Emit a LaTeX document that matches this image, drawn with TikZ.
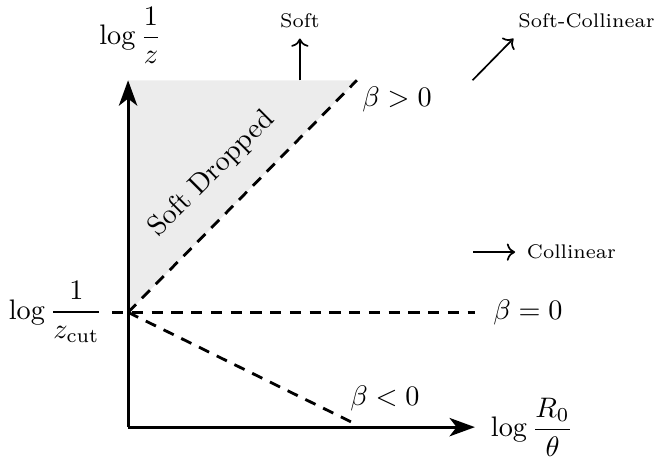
\documentclass[tikz,border=0pt]{standalone}
\usepackage{amsmath}
\usetikzlibrary{arrows.meta,positioning}

\tikzset{
    axis/.style={line width=1.1pt, -{Stealth[length=9pt,width=6.5pt,inset=2.5pt]}},
    cutline/.style={line width=1pt, dash pattern=on 4pt off 3pt},
    region/.style={semithick, ->},
    smalllabel/.style={font=\scriptsize, inner sep=1pt},
}

\begin{document}
\begin{tikzpicture}
    \useasboundingbox (-1.595,-0.374) rectangle (6.60,5.32);
    \coordinate (O) at (0,0);
    \coordinate (ytop) at (0,4.32);
    \coordinate (xend) at (4.32,0);
    \coordinate (cut) at (0,1.43);
    \coordinate (upend) at (2.85,4.32);
    \coordinate (flatstart) at (-0.2,1.43);
    \coordinate (flatend) at (4.32,1.43);
    \coordinate (downend) at (2.85,0.03);
    \fill[gray!15] (cut) -- (ytop) -- (upend) -- cycle;
    \draw[axis] (O) -- (ytop);
    \draw[axis] (O) -- (xend);
    \draw[cutline] (cut) -- (upend);
    \draw[cutline] (flatstart) -- (flatend);
    \draw[cutline] (cut) -- (downend);
    \node (ylab) at (0.03,4.88) {$\displaystyle\log\frac{1}{z}$};
    \node (zcutlab) at (-0.90,1.43) {$\displaystyle\log\frac{1}{z_{\text{cut}}}$};
    \node (xlab) at (5.03,0.0) {$\displaystyle\log\frac{R_0}{\theta}$};
    \node (bpos) at (3.35,4.08) {$\beta > 0$};
    \node (bzero) at (4.98,1.43) {$\beta = 0$};
    \node (bneg) at (3.20,0.36) {$\beta < 0$};
    \node[rotate=45] (dropped) at (1.04,3.15) {Soft Dropped};
    \coordinate (softfoot) at (2.14,4.32);
    \coordinate (softtip) at (2.14,4.84);
    \node[smalllabel] (soft) at (2.14,5.06) {Soft};
    \draw[region] (softfoot) -- (softtip);
    \coordinate (scfoot) at (4.29,4.32);
    \coordinate (sctip) at (4.80,4.84);
    \node[smalllabel] (softcol) at (5.71,5.06) {Soft-Collinear};
    \draw[region] (scfoot) -- (sctip);
    \coordinate (colfoot) at (4.30,2.18);
    \coordinate (coltip) at (4.82,2.18);
    \node[smalllabel, right=3pt of coltip] (col) {Collinear};
    \draw[region] (colfoot) -- (coltip);
\end{tikzpicture}
\end{document}
